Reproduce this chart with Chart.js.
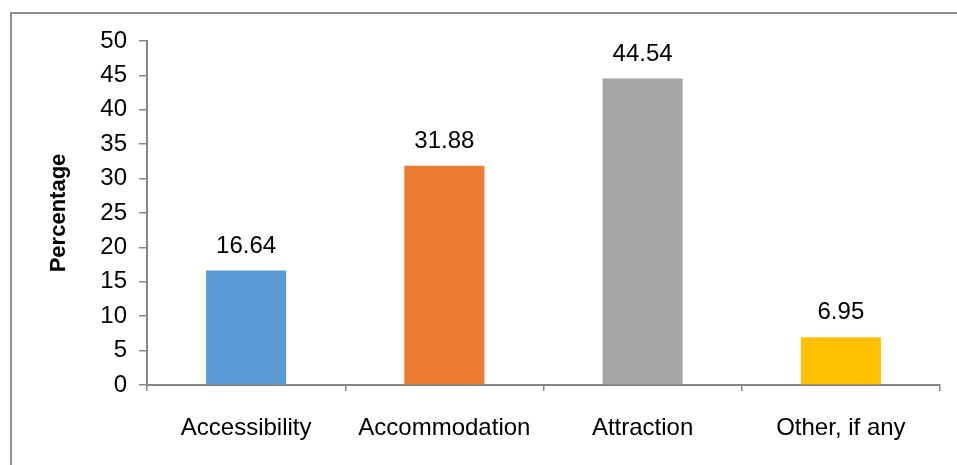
<!DOCTYPE html>
<html>
<head>
<meta charset="utf-8">
<script src="https://cdn.jsdelivr.net/npm/chart.js@4/dist/chart.umd.min.js"></script>
<style>
  html, body { margin: 0; padding: 0; background: #ffffff; }
  #wrap { width: 957px; height: 465px; position: relative; }
</style>
</head>
<body>
<div id="wrap"><canvas id="chart" width="957" height="465"></canvas></div>
<script>
// Share of respondents by tourism factor
const categories = ["Accessibility", "Accommodation", "Attraction", "Other, if any"];
const percentages = [16.64, 31.88, 44.54, 6.95];
const barColors = ["#5B9BD5", "#ED7D31", "#A5A5A5", "#FFC000"];
const yTicks = [0, 5, 10, 15, 20, 25, 30, 35, 40, 45, 50];

const FONT = "'Liberation Sans', Arial, sans-serif";
const AXIS_COLOR = "#868686";

// Outer frame of the chart panel
const framePlugin = {
  id: "frame",
  beforeDraw(chart) {
    const ctx = chart.ctx;
    ctx.save();
    ctx.fillStyle = "#ffffff";
    ctx.fillRect(0, 0, chart.width, chart.height);
    ctx.strokeStyle = "#8e8e8e";
    ctx.lineWidth = 2;
    ctx.beginPath();
    ctx.moveTo(11, chart.height + 5);
    ctx.lineTo(11, 13);
    ctx.lineTo(chart.width + 5, 13);
    ctx.stroke();
    ctx.restore();
  }
};

// Value labels above each bar
const valueLabels = {
  id: "valueLabels",
  afterDatasetsDraw(chart) {
    const ctx = chart.ctx;
    const meta = chart.getDatasetMeta(0);
    const data = chart.data.datasets[0].data;
    ctx.save();
    ctx.font = "24px " + FONT;
    ctx.fillStyle = "#000000";
    ctx.textAlign = "center";
    ctx.textBaseline = "alphabetic";
    meta.data.forEach((bar, i) => {
      ctx.fillText(data[i].toFixed(2), bar.x, bar.y - 18);
    });
    ctx.restore();
  }
};

new Chart(document.getElementById("chart"), {
  type: "bar",
  data: {
    labels: categories,
    datasets: [{
      data: percentages,
      backgroundColor: barColors,
      borderWidth: 0,
      categoryPercentage: 1.0,
      barPercentage: 0.404
    }]
  },
  options: {
    responsive: false,
    animation: false,
    events: [],
    layout: { padding: { left: 20, top: 41, right: 17, bottom: 0 } },
    plugins: {
      legend: { display: false },
      tooltip: { enabled: false }
    },
    scales: {
      x: {
        offset: true,
        grid: {
          offset: true,
          drawOnChartArea: false,
          drawTicks: true,
          tickLength: 6,
          color: AXIS_COLOR,
          lineWidth: 1.5
        },
        border: { display: true, color: AXIS_COLOR, width: 2 },
        ticks: {
          color: "#000000",
          font: { family: FONT, size: 24 },
          padding: 23,
          maxRotation: 0,
          autoSkip: false
        },
        afterFit(scale) { scale.height = 80; }
      },
      y: {
        min: 0,
        max: 50,
        afterBuildTicks(scale) { scale.ticks = yTicks.map(v => ({ value: v })); },
        grid: {
          drawOnChartArea: false,
          drawTicks: true,
          tickLength: 8,
          color: AXIS_COLOR,
          lineWidth: 1.5
        },
        border: { display: true, color: AXIS_COLOR, width: 2 },
        ticks: {
          color: "#000000",
          font: { family: FONT, size: 24 },
          padding: 12
        },
        title: {
          display: true,
          text: "Percentage",
          color: "#000000",
          font: { family: FONT, size: 22, weight: "bold" },
          padding: { top: 26, bottom: 0 }
        },
        afterFit(scale) { scale.width = 127; }
      }
    }
  },
  plugins: [framePlugin, valueLabels]
});
</script>
</body>
</html>
